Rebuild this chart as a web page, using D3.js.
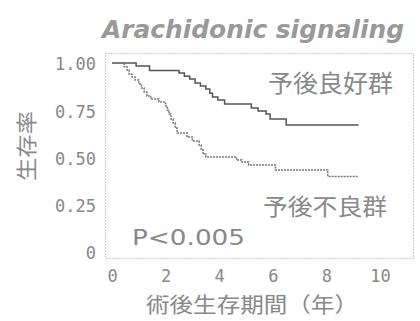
<!DOCTYPE html>
<html>
<head>
<meta charset="utf-8">
<script src="https://cdn.jsdelivr.net/npm/d3@7"></script>
<style>
  body { margin: 0; background: #fff; }
  svg { display: block; }
  .tick text { fill: #888; font-family: "DejaVu Sans Mono", monospace; font-size: 17px; }
</style>
</head>
<body>
<div id="chart"></div>
<script>
// survival curves (years, fraction surviving)
const goodTimes = [0, 0.9, 1.4, 2.5, 2.7, 2.9, 3.1, 3.3, 3.5, 3.65, 3.75, 3.95, 4.2, 5.2, 5.45, 5.75, 5.9, 6.5, 9.2];
const goodSurv  = [1.0, 0.984, 0.96, 0.947, 0.93, 0.915, 0.894, 0.878, 0.862, 0.84, 0.82, 0.804, 0.783, 0.762, 0.746, 0.73, 0.704, 0.672, 0.672];
const poorTimes = [0, 0.45, 0.56, 0.64, 0.75, 0.86, 1.0, 1.1, 1.2, 1.3, 1.45, 1.75, 2.0, 2.06, 2.13, 2.2, 2.28, 2.36, 2.43, 2.8, 3.0, 3.25, 3.33, 3.4, 3.5, 4.65, 4.85, 5.1, 6.1, 8.05, 9.2];
const poorSurv  = [1.0, 0.98, 0.963, 0.94, 0.926, 0.91, 0.889, 0.868, 0.846, 0.825, 0.81, 0.794, 0.772, 0.751, 0.73, 0.704, 0.683, 0.656, 0.63, 0.608, 0.587, 0.566, 0.54, 0.519, 0.503, 0.487, 0.476, 0.46, 0.434, 0.4, 0.4];

const xTicks = [0, 2, 4, 6, 8, 10];
const yTicks = [0, 0.25, 0.5, 0.75, 1];
const yTickLabels = ["0", "0.25", "0.50", "0.75", "1.00"];

const title = "Arachidonic signaling";
const xTitle = "術後生存期間（年）";
const yTitle = "生存率";
const goodLabel = "予後良好群";
const poorLabel = "予後不良群";
const pLabel = "P<0.005";

const width = 420, height = 321;
const ink = "#888";

const svg = d3.select("#chart").append("svg")
  .attr("width", width)
  .attr("height", height);

const x = d3.scaleLinear().domain([0, 10]).range([112, 380]);
const y = d3.scaleLinear().domain([0, 1]).range([252, 63]);

// dotted frame
svg.append("rect")
  .attr("x", 105.5).attr("y", 53.5)
  .attr("width", 308).attr("height", 205)
  .style("fill", "none")
  .style("stroke", "#999")
  .style("stroke-width", 1)
  .style("stroke-dasharray", "1,2");

// axes, labels only
svg.append("g")
  .attr("transform", "translate(0,277)")
  .call(d3.axisBottom(x).tickValues(xTicks).tickSize(0).tickPadding(0))
  .call(g => g.select(".domain").remove())
  .selectAll("text").attr("dy", "0.3em");

svg.append("g")
  .attr("transform", "translate(96,0)")
  .call(d3.axisLeft(y).tickValues(yTicks).tickSize(0).tickPadding(0)
    .tickFormat((d, i) => yTickLabels[i]))
  .call(g => g.select(".domain").remove())
  .selectAll("text").attr("dy", "0.4em");

const step = d3.line()
  .x(d => x(d[0]))
  .y(d => y(d[1]))
  .curve(d3.curveStepAfter);

svg.append("path")
  .attr("d", step(d3.zip(goodTimes, goodSurv)))
  .style("fill", "none")
  .style("stroke", "#555")
  .style("stroke-width", 1.5);

svg.append("path")
  .attr("d", step(d3.zip(poorTimes, poorSurv)))
  .style("fill", "none")
  .style("stroke", "#777")
  .style("stroke-width", 1.5)
  .style("stroke-dasharray", "2,1");

// texts
svg.append("text")
  .attr("x", 102).attr("y", 38)
  .attr("textLength", 302).attr("lengthAdjust", "spacingAndGlyphs")
  .style("font-family", "DejaVu Sans, sans-serif")
  .style("font-weight", "bold").style("font-style", "italic")
  .style("font-size", "25px")
  .style("fill", "#999")
  .text(title);

const cjk = "'Noto Sans CJK JP', sans-serif";

svg.append("text")
  .attr("x", 252).attr("y", 312)
  .attr("text-anchor", "middle")
  .attr("textLength", 212).attr("lengthAdjust", "spacingAndGlyphs")
  .style("font-family", cjk).style("font-size", "21px")
  .style("fill", ink)
  .text(xTitle);

svg.append("text")
  .attr("transform", "translate(34,146) rotate(-90)")
  .attr("text-anchor", "middle")
  .attr("textLength", 70).attr("lengthAdjust", "spacingAndGlyphs")
  .style("font-family", cjk).style("font-size", "21px")
  .style("fill", ink)
  .text(yTitle);

svg.append("text")
  .attr("x", 268).attr("y", 92)
  .attr("textLength", 125).attr("lengthAdjust", "spacingAndGlyphs")
  .style("font-family", cjk).style("font-size", "24px")
  .style("fill", ink)
  .text(goodLabel);

svg.append("text")
  .attr("x", 263).attr("y", 215)
  .attr("textLength", 124).attr("lengthAdjust", "spacingAndGlyphs")
  .style("font-family", cjk).style("font-size", "23px")
  .style("fill", ink)
  .text(poorLabel);

svg.append("text")
  .attr("x", 132).attr("y", 245)
  .attr("textLength", 113).attr("lengthAdjust", "spacingAndGlyphs")
  .style("font-family", "DejaVu Sans, sans-serif").style("font-size", "22px")
  .style("fill", ink)
  .text(pLabel);
</script>
</body>
</html>
